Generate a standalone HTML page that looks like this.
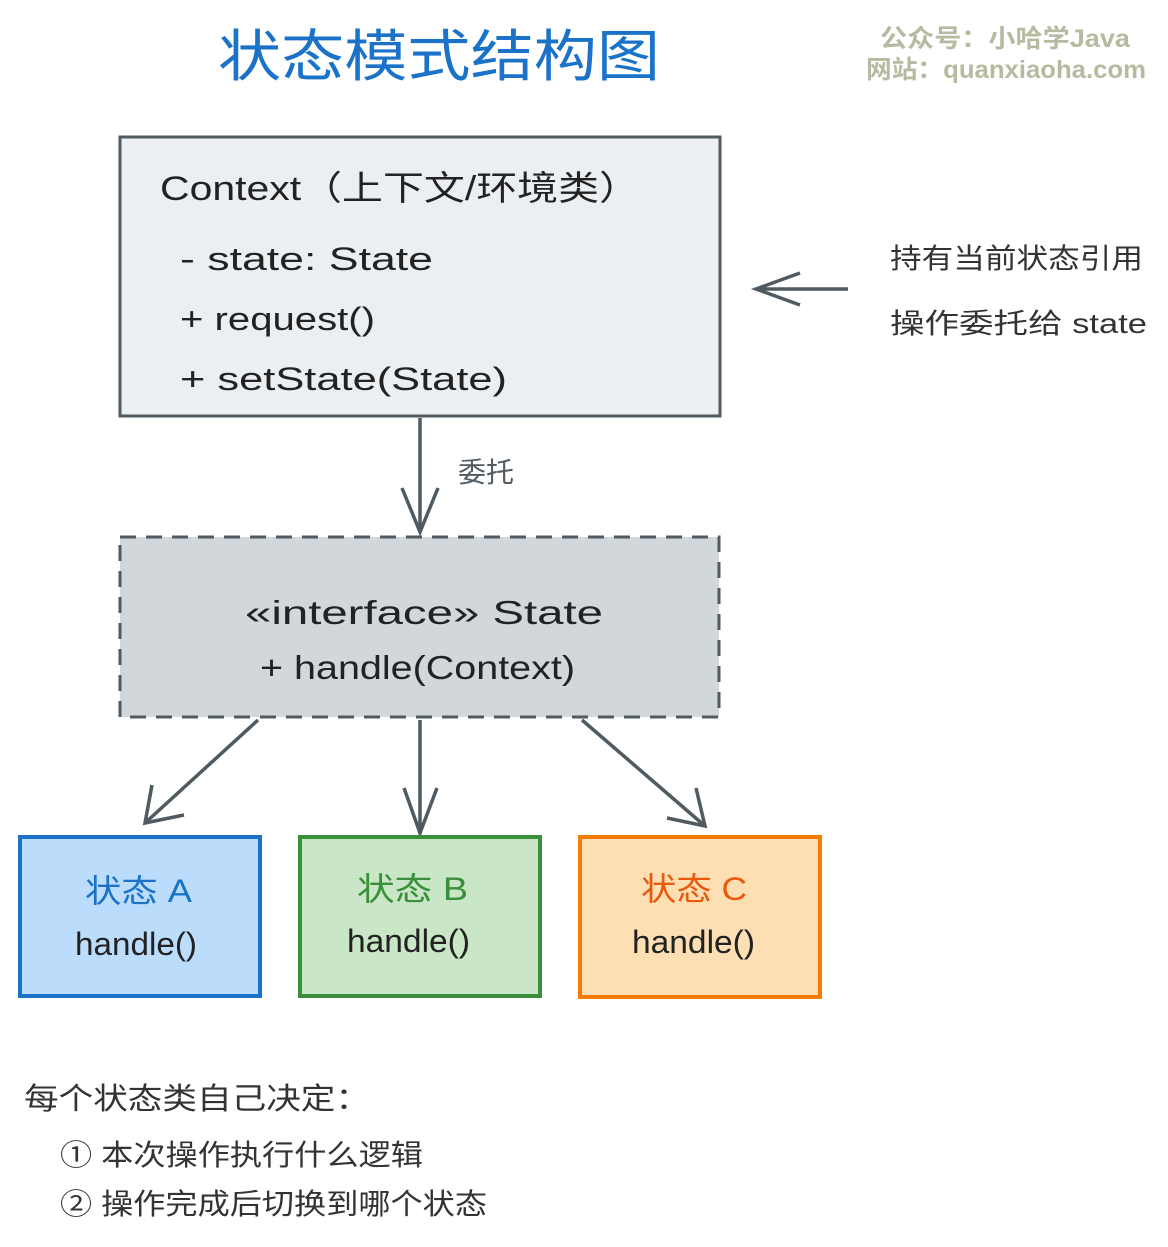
<!DOCTYPE html>
<html><head><meta charset="utf-8"><style>
html,body{margin:0;padding:0;background:#fff;}
svg{display:block;}
text{font-family:"Liberation Sans","Noto Sans CJK SC",sans-serif;}
</style></head><body>
<svg width="1168" height="1247" viewBox="0 0 1168 1247" xmlns="http://www.w3.org/2000/svg">
<text x="218" y="76" font-size="56" fill="#1a73c8" textLength="442" lengthAdjust="spacingAndGlyphs">状态模式结构图</text>
<text x="880" y="47" font-size="25" fill="#b5bba0" font-weight="bold" textLength="250" lengthAdjust="spacingAndGlyphs">公众号：小哈学Java</text>
<text x="866" y="78" font-size="25" fill="#b5bba0" font-weight="bold" textLength="280" lengthAdjust="spacingAndGlyphs">网站：quanxiaoha.com</text>

<rect x="120" y="137" width="600" height="279" fill="#eceff2" stroke="#4f5a61" stroke-width="3"/>
<text x="160" y="200" font-size="34" fill="#222" textLength="480" lengthAdjust="spacingAndGlyphs">Context（上下文/环境类）</text>
<text x="180" y="270" font-size="32" fill="#222" textLength="253" lengthAdjust="spacingAndGlyphs">- state: State</text>
<text x="180" y="330" font-size="32" fill="#222" textLength="195" lengthAdjust="spacingAndGlyphs">+ request()</text>
<text x="180" y="390" font-size="32" fill="#222" textLength="327" lengthAdjust="spacingAndGlyphs">+ setState(State)</text>

<path d="M848 289 L756 289 M800 273 L756 289 L800 305" stroke="#4f5a61" stroke-width="3.5" fill="none"/>
<text x="890" y="268" font-size="28" fill="#333" textLength="253" lengthAdjust="spacingAndGlyphs">持有当前状态引用</text>
<text x="890" y="333" font-size="28" fill="#333" textLength="257" lengthAdjust="spacingAndGlyphs">操作委托给 state</text>

<path d="M420 418 L420 532 M402 488 L420 532 L438 488" stroke="#4f5a61" stroke-width="3.5" fill="none"/>
<text x="458" y="482" font-size="28" fill="#4f5a61">委托</text>

<rect x="120" y="537" width="599" height="180" fill="#d1d7db" stroke="#4f5a61" stroke-width="3" stroke-dasharray="16 10"/>
<text x="245" y="624" font-size="33" fill="#222" textLength="358" lengthAdjust="spacingAndGlyphs">«interface» State</text>
<text x="260" y="679" font-size="33" fill="#222" textLength="315" lengthAdjust="spacingAndGlyphs">+ handle(Context)</text>

<path d="M258 720 L145 823 M152 785 L145 823 L184 815" stroke="#4f5a61" stroke-width="3.5" fill="none"/>
<path d="M420 720 L420 833 M404 788 L420 833 L437 788" stroke="#4f5a61" stroke-width="3.5" fill="none"/>
<path d="M582 720 L705 826 M667 818 L705 826 L696 788" stroke="#4f5a61" stroke-width="3.5" fill="none"/>

<rect x="20" y="837" width="240" height="159" fill="#bbdcfb" stroke="#1a73c8" stroke-width="4"/>
<text x="85" y="902" font-size="32" fill="#1a73c8" textLength="107" lengthAdjust="spacingAndGlyphs">状态 A</text>
<text x="75" y="955" font-size="32" fill="#222" textLength="122" lengthAdjust="spacingAndGlyphs">handle()</text>
<rect x="300" y="837" width="240" height="159" fill="#c9e6c6" stroke="#3a8f3a" stroke-width="4"/>
<text x="357" y="900" font-size="32" fill="#3a8f3a" textLength="111" lengthAdjust="spacingAndGlyphs">状态 B</text>
<text x="347" y="952" font-size="32" fill="#222" textLength="123" lengthAdjust="spacingAndGlyphs">handle()</text>
<rect x="580" y="837" width="240" height="160" fill="#fedfb4" stroke="#f57c00" stroke-width="4"/>
<text x="641" y="900" font-size="32" fill="#e8590c" textLength="106" lengthAdjust="spacingAndGlyphs">状态 C</text>
<text x="632" y="953" font-size="32" fill="#222" textLength="123" lengthAdjust="spacingAndGlyphs">handle()</text>

<text x="24" y="1109" font-size="30" fill="#333" textLength="346" lengthAdjust="spacingAndGlyphs">每个状态类自己决定：</text>
<text x="60" y="1165" font-size="29" fill="#333" textLength="363" lengthAdjust="spacingAndGlyphs">① 本次操作执行什么逻辑</text>
<text x="60" y="1214" font-size="29" fill="#333" textLength="427" lengthAdjust="spacingAndGlyphs">② 操作完成后切换到哪个状态</text>
</svg>
</body></html>
